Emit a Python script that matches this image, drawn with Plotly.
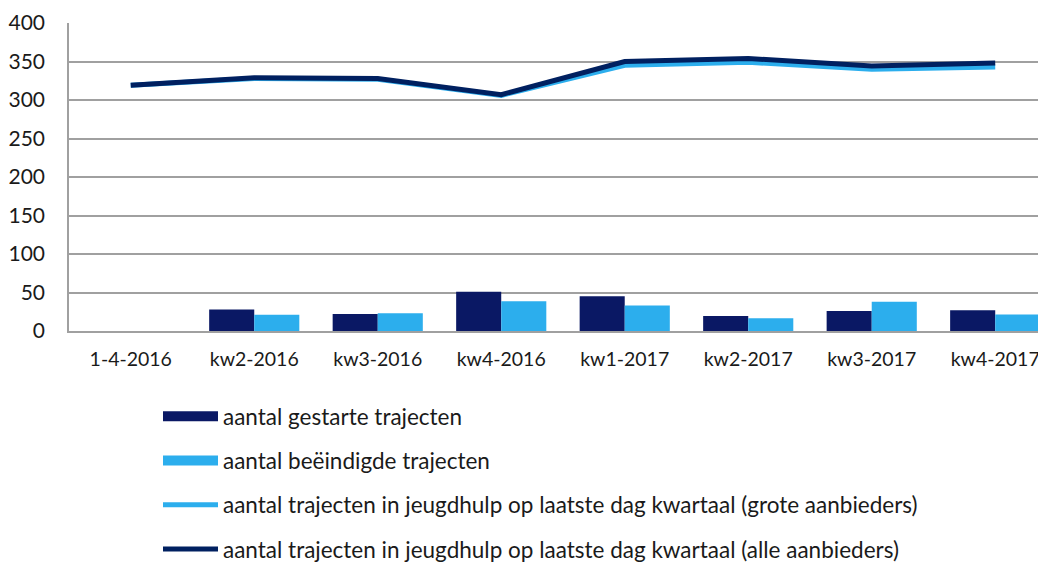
import plotly.graph_objects as go

categories = ["1-4-2016", "kw2-2016", "kw3-2016", "kw4-2016", "kw1-2017", "kw2-2017", "kw3-2017", "kw4-2017"]
gestart = [None, 28, 22, 51, 45, 19.5, 26, 27]
beeindigd = [None, 21, 23, 38.5, 33, 16.5, 38, 21.5]
grote = [319, 328, 327, 306, 345, 349, 340, 343]
alle = [319, 329, 328, 307, 350, 354, 344, 348]
y_ticks = [0, 50, 100, 150, 200, 250, 300, 350, 400]

dark_bar = "#0a1864"
light = "#2caeed"
dark_line = "#002060"
font_family = "Lato, 'Open Sans', sans-serif"

fig = go.Figure()
fig.add_trace(go.Bar(x=categories, y=gestart, name="aantal gestarte trajecten",
                     marker=dict(color=dark_bar, line=dict(width=0)), legendgroup="a",
                     showlegend=False))
fig.add_trace(go.Bar(x=categories, y=beeindigd, name="aantal beëindigde trajecten",
                     marker=dict(color=light, line=dict(width=0)), legendgroup="b",
                     showlegend=False))
# legend entries for the bars drawn as wide rectangles
fig.add_trace(go.Scatter(x=[None], y=[None], mode="lines", name="aantal gestarte trajecten",
                         line=dict(color=dark_bar, width=14), legendgroup="a"))
fig.add_trace(go.Scatter(x=[None], y=[None], mode="lines", name="aantal beëindigde trajecten",
                         line=dict(color=light, width=14), legendgroup="b"))
fig.add_trace(go.Scatter(x=categories, y=grote, mode="lines",
                         name="aantal trajecten in jeugdhulp op laatste dag kwartaal (grote aanbieders)",
                         line=dict(color=light, width=5), legendgroup="c"))
fig.add_trace(go.Scatter(x=categories, y=alle, mode="lines",
                         name="aantal trajecten in jeugdhulp op laatste dag kwartaal (alle aanbieders)",
                         line=dict(color=dark_line, width=5), legendgroup="d"))

fig.update_layout(
    width=1046, height=563,
    margin=dict(l=61, r=0, t=15, b=240, autoexpand=False),
    paper_bgcolor="white", plot_bgcolor="white",
    font=dict(family=font_family, size=21, color="#1a1a1a"),
    barmode="group", bargap=0.27, bargroupgap=0,
    showlegend=True,
    legend=dict(orientation="v", xref="container", yref="container",
                x=150 / 1046, xanchor="left", y=1 - 387 / 563, yanchor="top",
                traceorder="grouped", tracegroupgap=12, itemwidth=55,
                font=dict(size=22.5, family=font_family)),
    xaxis=dict(range=[-0.5, 7.476], showgrid=False, showline=True, linecolor="#a0a0a0",
               linewidth=2, ticks="", tickfont=dict(size=19.5), automargin=False,
               ticklabelstandoff=10),
    yaxis=dict(range=[0, 400], tickvals=y_ticks, showgrid=True, gridcolor="#a0a0a0",
               gridwidth=1.5, showline=True, linecolor="#a0a0a0", linewidth=1.5,
               ticks="", zeroline=False, tickfont=dict(size=21), automargin=False,
               ticklabelstandoff=18),
)

fig.write_html("out.html")
